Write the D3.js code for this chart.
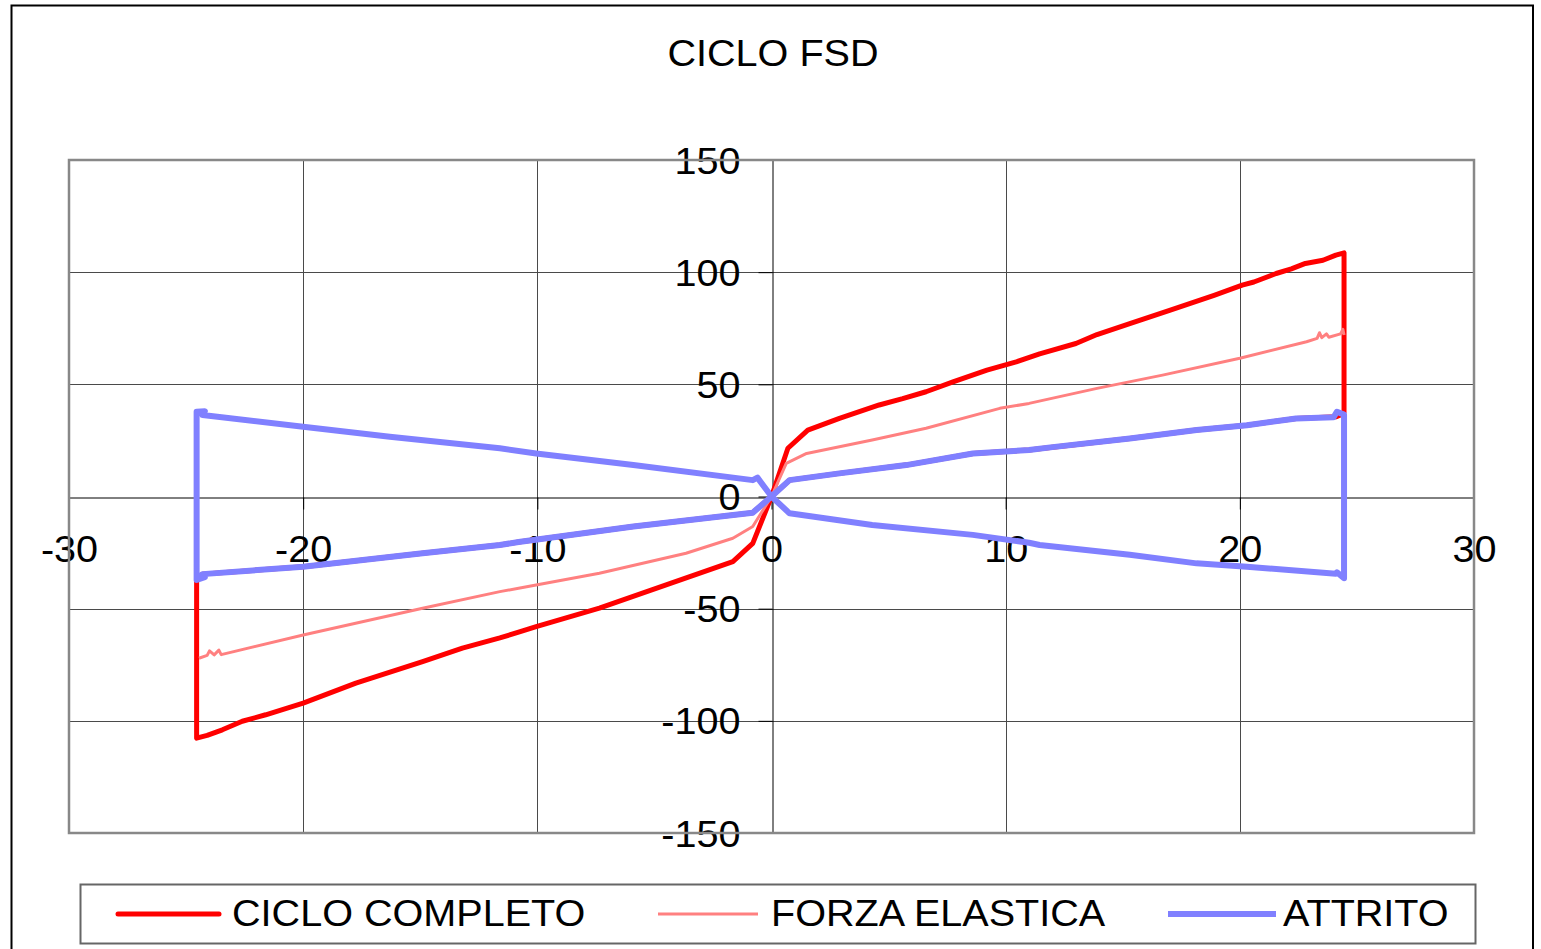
<!DOCTYPE html>
<html><head><meta charset="utf-8">
<script src="https://cdn.jsdelivr.net/npm/d3@7"></script>
<style>body{margin:0;background:#fff}</style>
</head><body><svg id="c" width="1541" height="949"></svg>
<script>
const title = "CICLO FSD";
const seriesNames = ["CICLO COMPLETO", "FORZA ELASTICA", "ATTRITO"];
const xTicks = [-30, -20, -10, 0, 10, 20, 30];
const yTicks = [-150, -100, -50, 0, 50, 100, 150];

// CICLO COMPLETO (total force)
const cicloRight = [[0,0],[0.7,21.5],[1.55,29.6],[2.9,34.8],[4.6,40.8],[5.6,43.6],[6.6,46.7],[7.75,51.1],[9.2,56.3],[10.45,60],[11.45,63.6],[13.0,68.2],[13.9,72.2],[15.3,77.1],[17.0,83],[18.9,89.7],[20.1,94.2],[20.6,95.6],[21.55,99.4],[22.2,101.5],[22.8,103.9],[23.55,105.3],[24.1,107.6],[24.45,108.6],[24.45,37]];
const cicloRightBack = [[24.45,37],[24.1,35.5],[22.4,34.8],[20.3,31.8],[18.15,29.6],[15.3,25.9],[12,22],[11.0,20.7],[8.6,19.2],[5.75,14],[2.9,10.3],[0.77,7.3],[0,0]];
const cicloLeft = [[0,0],[-0.8,-20.9],[-1.65,-29],[-4.5,-39.4],[-7.35,-49.8],[-10.05,-58],[-10.8,-60.5],[-11.6,-63],[-13.2,-67.6],[-14.9,-73.6],[-17.75,-83.2],[-20,-92.1],[-21.6,-97.3],[-22.6,-100.2],[-23.45,-104],[-24.1,-106.5],[-24.55,-107.7],[-24.55,-37]];
const cicloLeftBack = [[-24.55,-37],[-24.3,-34.6],[-20,-31.3],[-14.9,-25.3],[-11.6,-21.6],[-10.8,-20.3],[-5.9,-13.4],[-0.8,-7.2],[0,0]];

// FORZA ELASTICA (elastic force)
const elasticaRight = [[0,0],[0.63,14.8],[1.5,19.2],[4.3,25.2],[6.6,30.4],[9.75,39.3],[11.0,41.5],[13.9,48.2],[16.7,54.1],[20,61.6],[22.85,69],[23.3,70.5],[23.4,73],[23.5,70.8],[23.7,72.5],[23.8,71],[24.3,72.5],[24.4,74.5],[24.45,72]];
const elasticaLeft = [[0,0],[-0.8,-13.4],[-1.65,-18.6],[-3.65,-25.3],[-7.35,-34.2],[-10.8,-40.9],[-11.6,-42.4],[-14.9,-49.8],[-20,-61.7],[-23.5,-70.5],[-23.6,-68.5],[-23.8,-70.6],[-24.0,-68.8],[-24.1,-70.8],[-24.45,-72.1]];

// ATTRITO (friction)
const attritoRight = [[0,0],[0.77,7.3],[2.9,10.3],[5.75,14],[8.6,19.2],[11.0,20.7],[12,22],[15.3,25.9],[18.15,29.6],[20.3,31.8],[22.4,34.8],[24.0,35.3],[24.15,37.8],[24.45,36.5],[24.45,-36.4],[24.15,-33.8],[24.1,-34.4],[20.3,-31.3],[18.15,-29.8],[15.3,-26],[11.45,-21.6],[11,-20.6],[8.6,-17.1],[4.3,-12.7],[0.77,-7.5],[0,0]];
const attritoLeft = [[0,0],[-0.6,8.4],[-0.8,7.3],[-5.9,14],[-10.05,19.2],[-11.6,21.5],[-16.3,26.6],[-20,31.1],[-24.3,36.3],[-24.2,38],[-24.55,37.8],[-24.55,-37.2],[-24.2,-36],[-24.3,-34.6],[-20,-31.3],[-14.9,-25.3],[-11.6,-21.6],[-10.8,-20.3],[-5.9,-13.4],[-0.8,-7.2],[0,0]];

const FONT = "'Liberation Sans', Arial, sans-serif";
const FS = 37, SX = 1.07;
const svg = d3.select("#c");

const x = d3.scaleLinear().domain([-30, 30]).range([69, 1474]);
const y = d3.scaleLinear().domain([-150, 150]).range([833, 160]);

// outer frame
svg.append("rect").attr("x", 11.5).attr("y", 5.5).attr("width", 1521.5).attr("height", 980)
  .attr("fill", "#fff").attr("stroke", "#000").attr("stroke-width", 2);

// title
svg.append("text").attr("transform", `translate(773,66) scale(${SX},1)`)
  .attr("text-anchor", "middle").attr("font-family", FONT).attr("font-size", FS).text(title);

// gridlines
const grid = svg.append("g").attr("stroke", "#4a4a4a").attr("stroke-width", 1);
grid.selectAll(".vg").data(xTicks.filter(d => d !== 0 && Math.abs(d) !== 30)).join("line")
  .attr("x1", d => Math.round(x(d)) + 0.5).attr("x2", d => Math.round(x(d)) + 0.5)
  .attr("y1", y(150)).attr("y2", y(-150));
grid.selectAll(".hg").data(yTicks.filter(d => d !== 0 && Math.abs(d) !== 150)).join("line")
  .attr("y1", d => Math.round(y(d)) + 0.5).attr("y2", d => Math.round(y(d)) + 0.5)
  .attr("x1", x(-30)).attr("x2", x(30));

// axes through origin
const gx = svg.append("g").attr("transform", `translate(0,${Math.round(y(0)) + 0.5})`)
  .call(d3.axisBottom(x).tickValues(xTicks).tickSize(12).tickSizeOuter(0).tickFormat(d => String(d)));
gx.selectAll("text").attr("y", 0).attr("dy", 0)
  .attr("transform", `translate(0,64) scale(${SX},1)`);
const gy = svg.append("g").attr("transform", `translate(${Math.round(x(0)) + 0.5},0)`)
  .call(d3.axisLeft(y).tickValues(yTicks).tickSize(14).tickSizeOuter(0).tickFormat(d => String(d)));
gy.selectAll("text").attr("x", 0).attr("dy", 0)
  .attr("transform", `translate(-32,13) scale(${SX},1)`);
[gx, gy].forEach(g => {
  g.attr("font-family", FONT).attr("font-size", FS);
  g.selectAll("text").attr("fill", "#000");
  g.selectAll("line").attr("stroke", "#000");
  g.select(".domain").attr("stroke", "#000");
});

// plot border
svg.append("rect").attr("x", x(-30)).attr("y", y(150))
  .attr("width", x(30) - x(-30)).attr("height", y(-150) - y(150))
  .attr("fill", "none").attr("stroke", "#888").attr("stroke-width", 2.5);

// series
const line = d3.line().x(d => x(d[0])).y(d => y(d[1]));
const seriesDefs = [
  {data: [cicloRight, cicloRightBack, cicloLeft, cicloLeftBack], color: "#FF0000", w: 5},
  {data: [elasticaRight, elasticaLeft], color: "#FF8080", w: 3},
  {data: [attritoRight, attritoLeft], color: "#8080FF", w: 6}
];
seriesDefs.forEach(s => {
  svg.append("g").selectAll("path").data(s.data).join("path")
    .attr("d", line).attr("fill", "none").attr("stroke", s.color)
    .attr("stroke-width", s.w).attr("stroke-linejoin", "round").attr("stroke-linecap", "butt");
});

// legend
svg.append("rect").attr("x", 80.5).attr("y", 884.5).attr("width", 1395).attr("height", 59)
  .attr("fill", "#fff").attr("stroke", "#666").attr("stroke-width", 2);
const legendPos = [{x1: 118, x2: 219, tx: 232}, {x1: 658, x2: 758, tx: 771}, {x1: 1168, x2: 1276, tx: 1283}];
seriesNames.forEach((n, i) => {
  const p = legendPos[i], s = seriesDefs[i];
  svg.append("line").attr("x1", p.x1).attr("x2", p.x2).attr("y1", 914).attr("y2", 914)
    .attr("stroke", s.color).attr("stroke-width", s.w).attr("stroke-linecap", i === 0 ? "round" : "butt");
  svg.append("text").attr("transform", `translate(${p.tx},926) scale(${SX},1)`)
    .attr("font-family", FONT).attr("font-size", FS).text(n);
});
</script></body></html>
